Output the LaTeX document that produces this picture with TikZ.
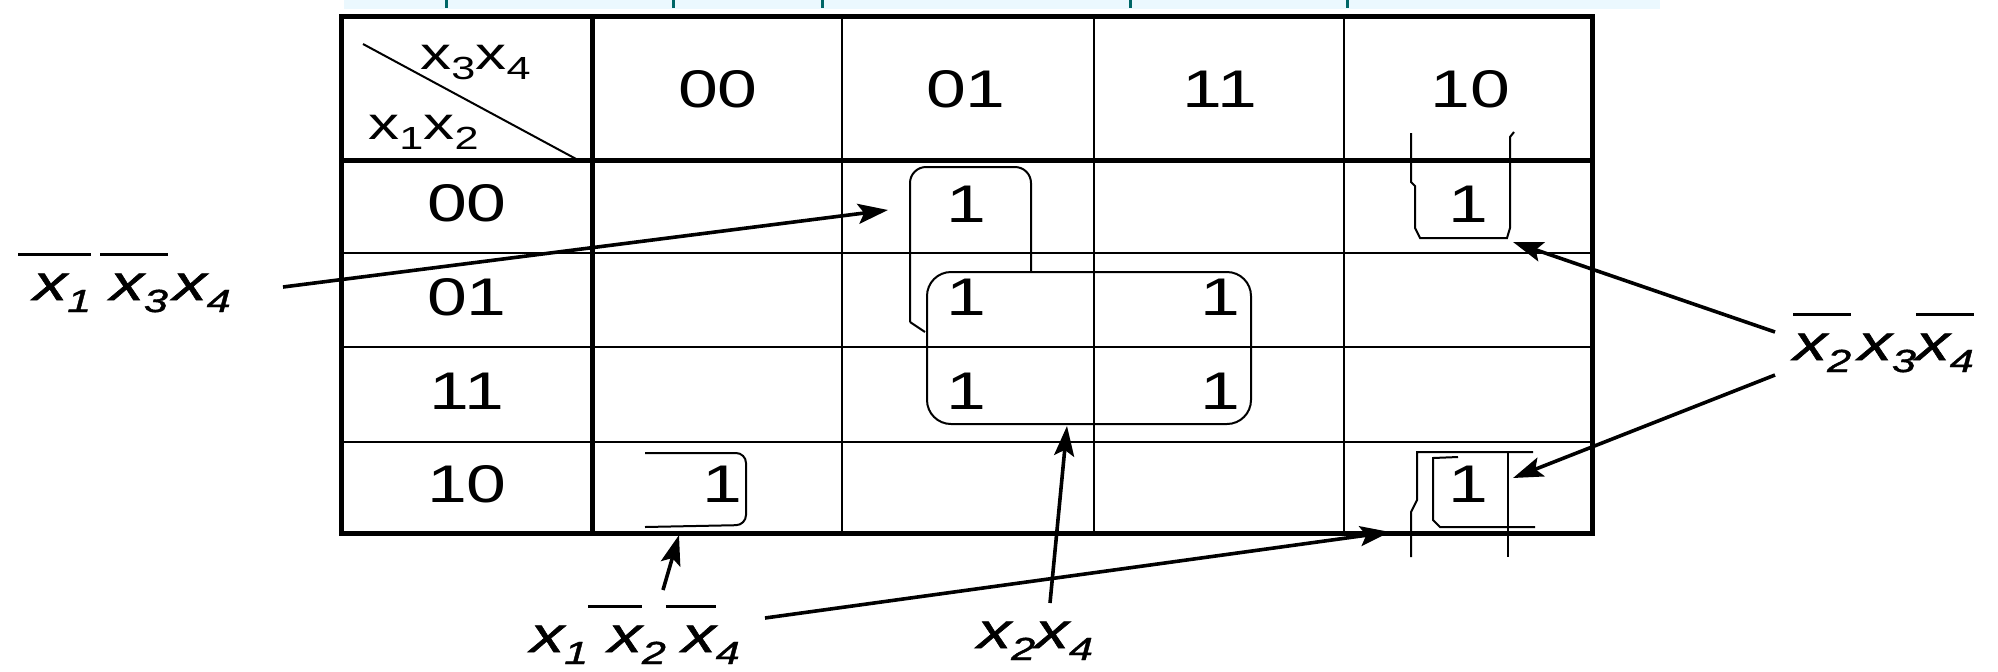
\documentclass[tikz,border=0pt]{standalone}
\usepackage{fontspec}
\setmainfont{Liberation Sans}
\newfontfamily\tf[FakeStretch=1.35]{Liberation Sans}
\newfontface\lf{Liberation Sans Italic}[FakeStretch=1.35,FakeBold=1.2]
\usetikzlibrary{arrows.meta}
\newcommand\lsub[1]{\raisebox{-6pt}{\fontsize{16}{16}\selectfont #1}}
\newcommand\hsub[1]{\raisebox{-5pt}{\fontsize{16}{16}\selectfont #1}}
\newcommand\ovl[1]{\setbox0=\hbox{#1}\vbox{\hrule height 1.5pt\kern 8.75pt\box0}}
\begin{document}
\begin{tikzpicture}[x=0.5pt,y=-0.5pt,
  thickline/.style={line width=2.5pt},
  thinline/.style={line width=1.2pt},
  ring/.style={line width=1pt},
  pointer/.style={line width=1.8pt,-{Stealth[length=15pt,width=10pt,inset=3pt]}},
  cell/.style={inner sep=0pt,font=\tf\fontsize{26.5}{26.5}\selectfont},
  lbl/.style={inner sep=0pt,anchor=base west,font=\lf\fontsize{25}{25}\selectfont},
  hdr/.style={inner sep=0pt,anchor=base west,font=\tf\fontsize{23}{23}\selectfont}]
\useasboundingbox (0,0) rectangle (1998,671);
\fill[white] (0,0) rectangle (1998,671);
% cropped fragment at top
\fill[cyan!8] (344,0) rectangle (1660,9);
\draw[teal!80!black,line width=1.5pt] (446,0)--(446,8) (673,0)--(673,8) (822,0)--(822,8) (1130,0)--(1130,8) (1347,0)--(1347,8);
% grid
\draw[thinline] (341,253) -- (1592,253) (341,347) -- (1592,347) (341,442) -- (1592,442);
\draw[thinline] (842,16) -- (842,533) (1094,16) -- (1094,533) (1344,16) -- (1344,533);
\draw[thickline] (592,16) -- (592,533) (341,160) -- (1592,160);
\draw[thickline] (341,16) rectangle (1592,533);
\draw[line width=1pt] (363,44) -- (578,160);
% header labels
\node[hdr] (h34) at (420,69) {x\hsub{3}x\hsub{4}};
\node[hdr] (h12) at (368,139) {x\hsub{1}x\hsub{2}};
\node[cell] (c00) at (718,89) {00};
\node[cell] (c01) at (966,89) {01};
\node[cell] (c11) at (1220,89) {11};
\node[cell] (c10) at (1470,89) {10};
\node[cell] (r00) at (467,203) {00};
\node[cell] (r01) at (467,297) {01};
\node[cell] (r11) at (467,391) {11};
\node[cell] (r10) at (467,484) {10};
% ones
\node[cell] (a) at (966,204) {1};
\node[cell] (b) at (1468,204) {1};
\node[cell] (c) at (966,297) {1};
\node[cell] (d) at (1220,297) {1};
\node[cell] (e) at (966,391) {1};
\node[cell] (f) at (1220,391) {1};
\node[cell] (g) at (722,484) {1};
\node[cell] (h) at (1468,484) {1};
% loops
\draw[ring,rounded corners=8pt] (910,322) -- (910,167) -- (1031,167) -- (1031,271);
\draw[ring] (910,322) -- (925,332);
\draw[ring,rounded corners=12pt] (927,272) rectangle (1251,424);
\draw[ring,rounded corners=5pt] (645,453) -- (746,453) -- (746,525) -- (645,527);
\draw[ring] (1411,133) -- (1411,182) -- (1415,186) -- (1415,228) -- (1420,238) -- (1507,238) -- (1510,228) -- (1510,137) -- (1514,132);
\draw[ring] (1533,452) -- (1417,452) -- (1417,500) -- (1411,512) -- (1411,557);
\draw[ring] (1508,452) -- (1508,557);
\draw[ring] (1458,457) -- (1433,458) -- (1433,520) -- (1440,527) -- (1535,527);
% outside labels
\node[lbl] (f1) at (18,300) {\ovl{\kern7.5pt x\lsub{1}}\kern4.5pt\ovl{\kern5pt x\lsub{3}}\kern2.5pt x\lsub{4}};
\node[lbl] (f2) at (1793,360) {\ovl{x\lsub{2}}\kern3.5pt x\lsub{3}\ovl{x\lsub{4}}};
\node[lbl] (f3) at (530,652) {x\lsub{1}\ovl{\kern10pt x}\lsub{2}\ovl{\kern8pt x}\lsub{4}};
\node[lbl] (f4) at (977,648) {x\lsub{2}x\lsub{4}};
% arrow ends
\coordinate (s1) at (283,287); \coordinate (t1) at (888,210);
\coordinate (s2) at (1775,332); \coordinate (t2) at (1513,242);
\coordinate (s3) at (1775,375); \coordinate (t3) at (1513,478);
\coordinate (s4) at (663,590); \coordinate (t4) at (679,535);
\coordinate (s5) at (765,618); \coordinate (t5) at (1390,532);
\coordinate (s6) at (1050,603); \coordinate (t6) at (1067,426);
\draw[pointer] (s1) -- (t1);
\draw[pointer] (s2) -- (t2);
\draw[pointer] (s3) -- (t3);
\draw[pointer] (s4) -- (t4);
\draw[pointer] (s5) -- (t5);
\draw[pointer] (s6) -- (t6);
\end{tikzpicture}
\end{document}
